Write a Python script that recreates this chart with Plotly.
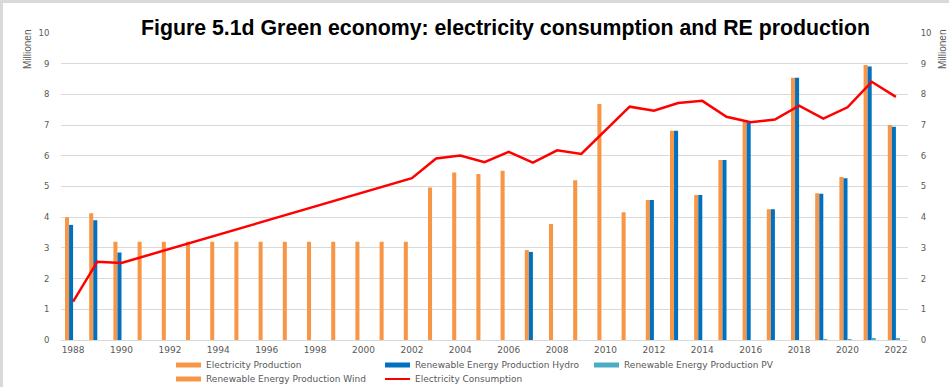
import plotly.graph_objects as go

# ---- data (millions) ----
years = [1988, 1989, 1990, 1991, 1992, 1993, 1994, 1995, 1996, 1997, 1998, 1999,
         2000, 2001, 2002, 2003, 2004, 2005, 2006, 2007, 2008, 2009, 2010, 2011,
         2012, 2013, 2014, 2015, 2016, 2017, 2018, 2019, 2020, 2021, 2022]

electricity_production = [4.00, 4.13, 3.20, 3.20, 3.20, 3.20, 3.20, 3.20, 3.20, 3.20,
                          3.20, 3.20, 3.20, 3.20, 3.20, 4.97, 5.46, 5.41, 5.51, 2.93,
                          3.78, 5.20, 7.69, 4.16, 4.56, 6.82, 4.72, 5.86, 7.12, 4.26,
                          8.54, 4.78, 5.31, 8.96, 7.00]

re_hydro = [3.75, 3.90, 2.85, None, None, None, None, None, None, None,
            None, None, None, None, None, None, None, None, None, 2.87,
            None, None, None, None, 4.56, 6.82, 4.72, 5.86, 7.09, 4.26,
            8.54, 4.76, 5.27, 8.91, 6.95]

re_pv = [None, None, None, None, None, None, None, None, None, None,
         None, None, None, None, None, None, None, None, None, None,
         None, None, None, None, None, None, None, None, None, None,
         None, 0.02, 0.03, 0.06, 0.06]

re_wind = [None, None, None, None, None, None, None, None, None, None,
           None, None, None, None, None, None, None, None, None, None,
           None, None, None, None, None, None, None, None, None, None,
           None, None, None, None, None]

electricity_consumption = [1.25, 2.55, 2.51, None, None, None, None, None, None, None,
                           None, None, None, None, 5.27, 5.91, 6.01, 5.79, 6.13, 5.78,
                           6.18, 6.06, 6.83, 7.60, 7.47, 7.72, 7.79, 7.27, 7.09, 7.18,
                           7.63, 7.21, 7.58, 8.41, 7.92]

year_ticks = [1988, 1990, 1992, 1994, 1996, 1998, 2000, 2002, 2004, 2006, 2008,
              2010, 2012, 2014, 2016, 2018, 2020, 2022]

title_text = "Figure 5.1d Green economy: electricity consumption and RE production"

ORANGE = "#F79646"
BLUE = "#0070C0"
PV_BLUE = "#4BACC6"
RED = "#FF0000"
GRID = "#D9D9D9"
TXT = "#595959"
FONT = "DejaVu Sans"

W, H = 949, 387
ML, MR, MT, MB = 61, 41, 33, 47
PW, PH = W - ML - MR, H - MT - MB


def px(x):
    return (x - ML) / PW


def py(y):
    return (H - MB - y) / PH


fig = go.Figure()
fig.add_trace(go.Bar(x=years, y=electricity_production, name="Electricity Production",
                     marker=dict(color=ORANGE, line=dict(width=0))))
fig.add_trace(go.Bar(x=years, y=re_hydro, name="Renewable Energy Production Hydro",
                     marker=dict(color=BLUE, line=dict(width=0))))
fig.add_trace(go.Bar(x=years, y=re_pv, name="Renewable Energy Production PV",
                     marker=dict(color=PV_BLUE, line=dict(width=0))))
fig.add_trace(go.Bar(x=years, y=re_wind, name="Renewable Energy Production Wind",
                     marker=dict(color=ORANGE, line=dict(width=0))))
fig.add_trace(go.Scatter(x=years, y=electricity_consumption, name="Electricity Consumption",
                         mode="lines", connectgaps=True, yaxis="y2",
                         line=dict(color=RED, width=2.5)))

fig.update_layout(
    width=W, height=H,
    margin=dict(l=ML, r=MR, t=MT, b=MB, pad=0),
    paper_bgcolor="white", plot_bgcolor="white",
    barmode="group", bargap=0.33, bargroupgap=0,
    showlegend=False,
    font=dict(family=FONT, size=8, color=TXT),
    xaxis=dict(range=[1987.5, 2022.5], tickvals=year_ticks, ticktext=[str(v) for v in year_ticks],
               showgrid=False, zeroline=False, showline=True, linecolor=GRID, linewidth=1,
               ticks="outside", ticklen=1, tickcolor="rgba(0,0,0,0)",
               tickfont=dict(family=FONT, size=9, color=TXT)),
    yaxis=dict(range=[0, 10], dtick=1, showgrid=True, gridcolor=GRID, gridwidth=1,
               zeroline=False, showline=False,
               ticks="outside", ticklen=9, tickcolor="rgba(0,0,0,0)",
               tickfont=dict(family=FONT, size=8.5, color=TXT)),
    yaxis2=dict(range=[0, 10], dtick=1, overlaying="y", side="right", showgrid=False,
                zeroline=False, showline=False,
                ticks="outside", ticklen=10, tickcolor="rgba(0,0,0,0)",
                tickfont=dict(family=FONT, size=8.5, color=TXT)),
)

shapes = [
    # outer frame on top and left
    dict(type="rect", xref="paper", yref="paper", x0=px(0), x1=px(3), y0=py(H), y1=py(0),
         fillcolor=GRID, line=dict(width=0), layer="above"),
    dict(type="rect", xref="paper", yref="paper", x0=px(0), x1=px(W), y0=py(3), y1=py(0),
         fillcolor=GRID, line=dict(width=0), layer="above"),
    # white box behind the title
    dict(type="rect", xref="paper", yref="paper", x0=px(106), x1=px(904), y0=py(41), y1=py(10),
         fillcolor="white", line=dict(width=0), layer="above"),
]

annotations = [
    dict(text="<b>" + title_text + "</b>", xref="paper", yref="paper", x=px(505), y=py(28),
         xanchor="center", yanchor="middle", showarrow=False,
         font=dict(family="Liberation Sans", size=21.3, color="black")),
    dict(text="Millionen", xref="paper", yref="paper", x=px(27), y=py(50), textangle=-90,
         xanchor="center", yanchor="middle", showarrow=False,
         font=dict(family="Liberation Sans Narrow, Liberation Sans", size=10, color=TXT)),
    dict(text="Millionen", xref="paper", yref="paper", x=px(942), y=py(50), textangle=-90,
         xanchor="center", yanchor="middle", showarrow=False,
         font=dict(family="Liberation Sans Narrow, Liberation Sans", size=10, color=TXT)),
]

# legend: swatch + label
legend_rows = [
    ("Electricity Production", ORANGE, "bar", 176, 365),
    ("Renewable Energy Production Hydro", BLUE, "bar", 385, 365),
    ("Renewable Energy Production PV", PV_BLUE, "bar", 594, 365),
    ("Renewable Energy Production Wind", ORANGE, "bar", 176, 379),
    ("Electricity Consumption", RED, "line", 385, 379),
]
for label, color, kind, x0, yc in legend_rows:
    if kind == "bar":
        shapes.append(dict(type="rect", xref="paper", yref="paper",
                           x0=px(x0), x1=px(x0 + 25), y0=py(yc + 2.5), y1=py(yc - 2.5),
                           fillcolor=color, line=dict(width=0), layer="above"))
    else:
        shapes.append(dict(type="line", xref="paper", yref="paper",
                           x0=px(x0), x1=px(x0 + 25), y0=py(yc), y1=py(yc),
                           line=dict(color=color, width=2), layer="above"))
    annotations.append(dict(text=label, xref="paper", yref="paper", x=px(x0 + 28), y=py(yc),
                            xanchor="left", yanchor="middle", showarrow=False,
                            font=dict(family=FONT, size=9, color=TXT)))

fig.update_layout(shapes=shapes, annotations=annotations)

fig.write_html("out.html")
